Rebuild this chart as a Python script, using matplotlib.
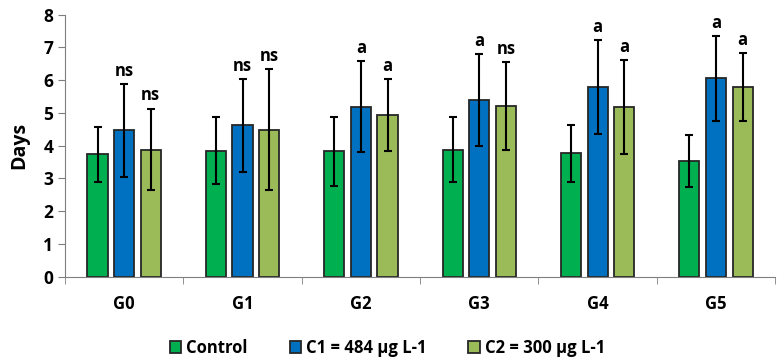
import numpy as np
import matplotlib.pyplot as plt

grupos = ["G0", "G1", "G2", "G3", "G4", "G5"]
series = ["Control", "C1 = 484 µg L-1", "C2 = 300 µg L-1"]

controle = [3.73, 3.85, 3.82, 3.87, 3.76, 3.53]
controle_err = [0.85, 1.03, 1.06, 0.99, 0.87, 0.80]
c1 = [4.47, 4.62, 5.19, 5.40, 5.79, 6.05]
c1_err = [1.42, 1.42, 1.39, 1.40, 1.44, 1.30]
c2 = [3.88, 4.48, 4.94, 5.21, 5.18, 5.79]
c2_err = [1.25, 1.85, 1.10, 1.35, 1.44, 1.04]

letras_c1 = ["ns", "ns", "a", "a", "a", "a"]
letras_c2 = ["ns", "ns", "a", "ns", "a", "a"]

CORES = ["#00B050", "#0070C0", "#9BBB59"]

plt.rcParams["font.family"] = ["Open Sans", "DejaVu Sans"]
plt.rcParams["font.weight"] = "bold"

fig, ax = plt.subplots(figsize=(7.83, 3.64), dpi=100)
fig.subplots_adjust(left=0.083, right=0.99, top=0.96, bottom=0.24)

x = np.arange(len(grupos))
largura = 0.17
passo = 0.225

dados = [(controle, controle_err, None), (c1, c1_err, letras_c1), (c2, c2_err, letras_c2)]
for i, (valores, erros, letras) in enumerate(dados):
    pos = x + (i - 1) * passo
    ax.bar(pos, valores, width=largura, color=CORES[i], edgecolor="#262626",
           linewidth=1.3, label=series[i], zorder=2)
    ax.errorbar(pos, valores, yerr=erros, fmt="none", ecolor="black",
                elinewidth=1.5, capsize=3, capthick=1.5, zorder=3)
    if letras:
        for xp, v, e, t in zip(pos, valores, erros, letras):
            ax.annotate(t, (xp, v + e), xytext=(0, 3), textcoords="offset points",
                        ha="center", va="bottom", fontsize=12, fontweight="bold")

ax.set_xlim(-0.5, len(grupos) - 0.5)
ax.set_ylim(0, 8)
ax.set_yticks(range(0, 9))
ax.set_xticks(x)
ax.set_xticklabels(grupos)
ax.set_xticks(np.arange(-0.5, len(grupos)), minor=True)
ax.tick_params(axis="x", which="major", length=0, pad=13, labelsize=12)
ax.tick_params(axis="x", which="minor", length=5, direction="out", color="#7f7f7f")
ax.tick_params(axis="y", length=5, direction="out", color="#7f7f7f", labelsize=12.5)
ax.set_ylabel("Days", fontsize=14, fontweight="bold", labelpad=10)

for lado in ["top", "right"]:
    ax.spines[lado].set_visible(False)
ax.spines["left"].set_color("#7f7f7f")
ax.spines["bottom"].set_color("#7f7f7f")

fig.legend(loc="center", bbox_to_anchor=(0.495, 0.045), ncol=3, frameon=False,
           fontsize=12, handlelength=0.7, handleheight=0.7, handletextpad=0.3,
           columnspacing=2.5)

fig.savefig("out.png", dpi=100)
